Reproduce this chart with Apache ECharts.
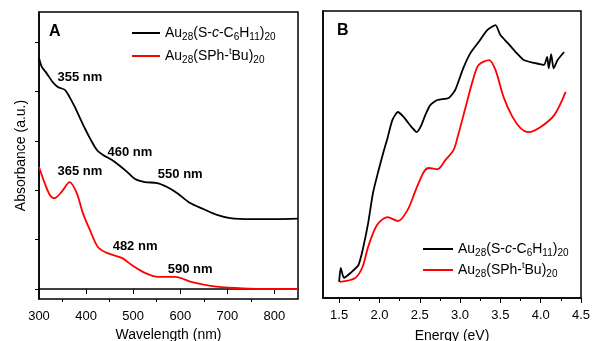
<!DOCTYPE html>
<html>
<head>
<meta charset="utf-8">
<script src="https://cdn.jsdelivr.net/npm/echarts@6/dist/echarts.min.js"></script>
<style>
  html, body { margin: 0; padding: 0; background: #fff; }
  #chart { width: 592px; height: 341px; }
</style>
</head>
<body>
<div id="chart"></div>
<script>
const nameCy = 'Au28(S-c-C6H11)20';
const nameBu = 'Au28(SPh-tBu)20';

// panel A: [wavelength nm, absorbance a.u.]
const absCy = [
  [300, 0.935], [306, 0.899], [316, 0.874], [329, 0.838], [340, 0.818], [355, 0.806],
  [365, 0.777], [376, 0.737], [387, 0.692], [397, 0.652], [408, 0.611], [423, 0.563],
  [436, 0.543], [455, 0.522], [472, 0.498], [487, 0.474], [504, 0.445], [525, 0.433],
  [551, 0.429], [572, 0.413], [593, 0.389], [621, 0.348], [649, 0.324], [678, 0.300],
  [706, 0.287], [749, 0.283], [802, 0.283], [850, 0.285]
];
const absBu = [
  [300, 0.494], [312, 0.429], [323, 0.381], [333, 0.368], [348, 0.393], [365, 0.433],
  [380, 0.389], [393, 0.308], [408, 0.239], [425, 0.170], [444, 0.146], [476, 0.126],
  [497, 0.097], [525, 0.065], [553, 0.049], [589, 0.049], [625, 0.028], [668, 0.012],
  [717, 0.004], [770, 0.000], [850, 0.000]
];
const peakLabels = [
  [387, 0.858, '355 nm'], [493, 0.551, '460 nm'], [600, 0.462, '550 nm'],
  [387, 0.478, '365 nm'], [504, 0.174, '482 nm'], [621, 0.081, '590 nm']
];

// panel B: [energy eV, absorbance a.u.]
const enCy = [
  [1.50, 0.056], [1.52, 0.105], [1.56, 0.070], [1.64, 0.087], [1.74, 0.115], [1.80, 0.178],
  [1.86, 0.261], [1.92, 0.366], [1.99, 0.446], [2.05, 0.509], [2.10, 0.557], [2.16, 0.620],
  [2.23, 0.648], [2.30, 0.631], [2.35, 0.613], [2.41, 0.592], [2.46, 0.578], [2.51, 0.596],
  [2.57, 0.638], [2.63, 0.672], [2.72, 0.690], [2.86, 0.697], [2.94, 0.725], [3.04, 0.801],
  [3.13, 0.854], [3.23, 0.892], [3.34, 0.934], [3.44, 0.951], [3.50, 0.916], [3.59, 0.889],
  [3.69, 0.857], [3.79, 0.829], [3.92, 0.819], [4.04, 0.812], [4.08, 0.840], [4.10, 0.800],
  [4.13, 0.850], [4.16, 0.800], [4.21, 0.829], [4.29, 0.857]
];
const enBu = [
  [1.51, 0.056], [1.70, 0.070], [1.79, 0.108], [1.86, 0.178], [1.97, 0.254], [2.10, 0.282],
  [2.23, 0.268], [2.35, 0.307], [2.45, 0.376], [2.55, 0.439], [2.61, 0.453], [2.72, 0.449],
  [2.82, 0.481], [2.92, 0.516], [2.97, 0.561], [3.07, 0.666], [3.16, 0.760], [3.23, 0.812],
  [3.36, 0.829], [3.44, 0.794], [3.54, 0.700], [3.65, 0.631], [3.75, 0.592], [3.85, 0.578],
  [4.00, 0.596], [4.17, 0.638], [4.31, 0.718]
];

const nmMajor = [300, 400, 500, 600, 700, 800];
const nmMinor = [350, 450, 550, 650, 750];
const absTicks = [0, 0.2, 0.4, 0.6, 0.8, 1.0];
const evMajor = [1.5, 2.0, 2.5, 3.0, 3.5, 4.0, 4.5];
const evMinor = [1.75, 2.25, 2.75, 3.25, 3.75, 4.25];

const font = 'Liberation Sans, Arial, sans-serif';

function legendText(name) {
  if (name === nameCy) {
    return '{n|Au}{s|28}{n|(S-}{i|c}{n|-C}{s|6}{n|H}{s|11}{n|)}{s|20}';
  }
  return '{n|Au}{s|28}{n|(SPh-}{u|t}{n|Bu)}{s|20}';
}
const legendRich = {
  n: { fontSize: 14, lineHeight: 18, color: '#000', fontFamily: font },
  i: { fontSize: 14, lineHeight: 18, color: '#000', fontStyle: 'italic', fontFamily: font },
  s: { fontSize: 10, lineHeight: 9, color: '#000', verticalAlign: 'bottom', fontFamily: font },
  u: { fontSize: 9, lineHeight: 10, color: '#000', verticalAlign: 'top', fontFamily: font }
};

function majorX(grid, min, max, ticks, fmt, gap) {
  return {
    gridIndex: grid,
    type: 'value',
    min: min,
    max: max,
    name: grid === 0 ? 'Wavelength (nm)' : 'Energy (eV)',
    nameLocation: 'middle',
    nameGap: gap,
    nameTextStyle: { fontSize: 14, color: '#000', fontFamily: font },
    axisLine: { show: true, lineStyle: { color: '#000', width: 1.5 } },
    axisTick: { show: true, inside: false, length: 5, customValues: ticks, lineStyle: { color: '#000', width: 1 } },
    axisLabel: { customValues: ticks, fontSize: 13, color: '#000', margin: 11, fontFamily: font, formatter: fmt },
    splitLine: { show: false }
  };
}
// second axis on the same grid, only for the short minor ticks
function minorX(grid, min, max, ticks) {
  return {
    gridIndex: grid,
    type: 'value',
    position: 'bottom',
    min: min,
    max: max,
    axisLine: { show: false },
    axisTick: { show: true, inside: false, length: 3, customValues: ticks, lineStyle: { color: '#000', width: 1 } },
    axisLabel: { show: false },
    splitLine: { show: false }
  };
}

const option = {
  backgroundColor: '#fff',
  animation: false,
  title: [
    { text: 'A', left: 49, top: 24, padding: 0, textStyle: { fontSize: 16, fontWeight: 'bold', color: '#000', fontFamily: font } },
    { text: 'B', left: 337, top: 23, padding: 0, textStyle: { fontSize: 16, fontWeight: 'bold', color: '#000', fontFamily: font } }
  ],
  legend: [
    {
      orient: 'vertical', left: 127, top: 21, icon: 'rect', itemWidth: 28, itemHeight: 2, itemGap: 5,
      data: [nameCy, nameBu], formatter: legendText, textStyle: { rich: legendRich }, selectedMode: false
    },
    {
      orient: 'vertical', left: 418, top: 237, icon: 'rect', itemWidth: 30, itemHeight: 2, itemGap: 3,
      data: [nameCy, nameBu], formatter: legendText, textStyle: { rich: legendRich }, selectedMode: false
    }
  ],
  grid: [
    { left: 39, top: 12, width: 259, height: 287, outerBoundsMode: 'none', containLabel: false, show: true, borderColor: '#000', borderWidth: 1.5, backgroundColor: 'transparent' },
    { left: 323, top: 11, width: 258, height: 287, outerBoundsMode: 'none', containLabel: false, show: true, borderColor: '#000', borderWidth: 1.5, backgroundColor: 'transparent' }
  ],
  xAxis: [
    majorX(0, 300, 850, nmMajor, v => String(v), 26),
    majorX(1, 1.3, 4.5, evMajor, v => v.toFixed(1), 31),
    minorX(0, 300, 850, nmMinor),
    minorX(1, 1.3, 4.5, evMinor)
  ],
  yAxis: [
    {
      gridIndex: 0, type: 'value', min: -0.0405, max: 1.1215,
      name: 'Absorbance (a.u.)', nameLocation: 'middle', nameGap: 11,
      nameTextStyle: { fontSize: 14, color: '#000', fontFamily: font },
      axisLine: { show: true, lineStyle: { color: '#000', width: 1.5 } },
      axisTick: { show: true, inside: false, length: 4, customValues: absTicks, lineStyle: { color: '#000', width: 1 } },
      axisLabel: { show: false },
      splitLine: { show: false }
    },
    {
      gridIndex: 1, type: 'value', min: 0, max: 1,
      axisLine: { show: true, lineStyle: { color: '#000', width: 1.5 } },
      axisTick: { show: false },
      axisLabel: { show: false },
      splitLine: { show: false }
    }
  ],
  series: [
    { name: nameCy, type: 'line', xAxisIndex: 0, yAxisIndex: 0, data: absCy, symbol: 'none', smooth: 0.3, color: '#000', lineStyle: { color: '#000', width: 1.8 } },
    { name: nameBu, type: 'line', xAxisIndex: 0, yAxisIndex: 0, data: absBu, symbol: 'none', smooth: 0.3, color: '#ff0000', lineStyle: { color: '#ff0000', width: 1.8 } },
    { name: nameCy, type: 'line', xAxisIndex: 1, yAxisIndex: 1, data: enCy, symbol: 'none', smooth: 0.2, color: '#000', lineStyle: { color: '#000', width: 1.8 } },
    { name: nameBu, type: 'line', xAxisIndex: 1, yAxisIndex: 1, data: enBu, symbol: 'none', smooth: 0.3, color: '#ff0000', lineStyle: { color: '#ff0000', width: 1.8 } },
    {
      name: 'peaks', type: 'scatter', xAxisIndex: 0, yAxisIndex: 0, data: peakLabels,
      symbolSize: 0, silent: true, itemStyle: { opacity: 1 },
      label: {
        show: true, position: 'inside', formatter: p => p.value[2],
        fontSize: 13, fontWeight: 'bold', color: '#000', textBorderWidth: 0, fontFamily: font
      }
    }
  ]
};

const myChart = echarts.init(document.getElementById('chart'));
myChart.setOption(option);
</script>
</body>
</html>
